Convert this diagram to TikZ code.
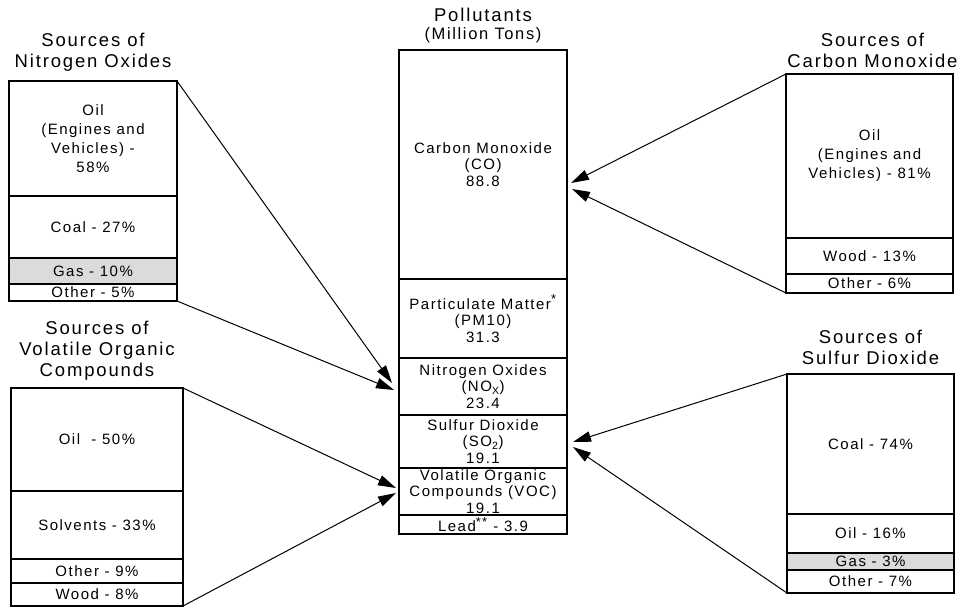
\documentclass[tikz,border=0pt]{standalone}
\usepackage{fontspec}
\setmainfont{Liberation Sans}[LetterSpace=10]
\usetikzlibrary{calc,positioning,arrows.meta}

\definecolor{gasgray}{gray}{0.86}
\newcommand\partfont{\fontsize{15}{19}\selectfont}
\newcommand\midfont{\fontsize{15}{16.5}\selectfont}
\newcommand\headfont{\fontsize{18.5}{21}\selectfont}
\newcommand\subheadfont{\fontsize{16.5}{18}\selectfont}
\newcommand\footmark[1]{\textsuperscript{\fontsize{13}{13}\selectfont #1}}

\tikzset{
  part/.style={draw, line width=1.1pt, inner sep=0pt, outer sep=0pt, align=center, font=\partfont},
  lcol/.style={part, minimum width=168pt},
  vcol/.style={part, minimum width=172pt},
  mcol/.style={part, minimum width=168pt, font=\midfont},
  rcol/.style={part, minimum width=167pt},
  gas/.style={fill=gasgray},
  head/.style={inner sep=0pt, align=center, font=\headfont},
  feed/.style={line width=1pt, -{Triangle[length=18pt,width=10.5pt]}}
}

\begin{document}
\begin{tikzpicture}[x=1pt,y=-1pt]
\useasboundingbox (0,0) rectangle (958,608);

% pollutants
\node[mcol, minimum height=229pt, anchor=north west] (pco) at (399,50) {Carbon Monoxide\\(CO)\\88.8};
\node[mcol, minimum height=79pt, below=0pt of pco] (ppm) {Particulate Matter\footmark{*}\\(PM10)\\31.3};
\node[mcol, minimum height=57pt, below=0pt of ppm] (pnox) {Nitrogen Oxides\\(NO\textsubscript{X})\\23.4};
\node[mcol, minimum height=53pt, below=0pt of pnox] (pso) {Sulfur Dioxide\\(SO\textsubscript{2})\\19.1};
\node[mcol, minimum height=47pt, below=0pt of pso] (pvoc) {Volatile Organic\\Compounds (VOC)\\19.1};
\node[mcol, minimum height=19pt, below=0pt of pvoc] (plead) {Lead\footmark{**} - 3.9};
\node[head, font=\subheadfont, above=7pt of pco] (psub) {(Million Tons)};
\node[head, above=5pt of psub] (ptitle) {Pollutants};

% nitrogen oxides
\node[lcol, minimum height=115pt, anchor=north west] (noxoil) at (9,81) {Oil\\(Engines and\\Vehicles) -\\58\%};
\node[lcol, minimum height=62pt, below=0pt of noxoil] (noxcoal) {Coal - 27\%};
\node[lcol, gas, minimum height=26pt, below=0pt of noxcoal] (noxgas) {Gas - 10\%};
\node[lcol, minimum height=17pt, below=0pt of noxgas] (noxother) {Other - 5\%};
\node[head, above=9pt of noxoil] (noxtitle) {Sources of\\Nitrogen Oxides};

% volatile organic compounds
\node[vcol, minimum height=103pt, anchor=north west] (vocoil) at (11,388) {Oil\ \ - 50\%};
\node[vcol, minimum height=68pt, below=0pt of vocoil] (vocsolv) {Solvents - 33\%};
\node[vcol, minimum height=24pt, below=0pt of vocsolv] (vocother) {Other - 9\%};
\node[vcol, minimum height=23pt, below=0pt of vocother] (vocwood) {Wood - 8\%};
\node[head, above=7pt of vocoil] (voctitle) {Sources of\\Volatile Organic\\Compounds};

% carbon monoxide
\node[rcol, minimum height=164pt, anchor=north west] (cooil) at (786,74) {Oil\\(Engines and\\Vehicles) - 81\%};
\node[rcol, minimum height=36pt, below=0pt of cooil] (cowood) {Wood - 13\%};
\node[rcol, minimum height=19pt, below=0pt of cowood] (coother) {Other - 6\%};
\node[head, above=6pt of cooil, xshift=3pt] (cotitle) {Sources of\\Carbon Monoxide};

% sulfur dioxide
\node[rcol, minimum height=140pt, anchor=north west] (socoal) at (787,374) {Coal - 74\%};
\node[rcol, minimum height=39pt, below=0pt of socoal] (sooil) {Oil - 16\%};
\node[rcol, gas, minimum height=17pt, below=0pt of sooil] (sogas) {Gas - 3\%};
\node[rcol, minimum height=23pt, below=0pt of sogas] (soother) {Other - 7\%};
\node[head, above=9pt of socoal] (sotitle) {Sources of\\Sulfur Dioxide};

\coordinate (noxin1) at ($(pnox.west)+(-7,-3.5)$);
\coordinate (noxin2) at ($(pnox.west)+(-5,3.5)$);
\coordinate (vocin1) at ($(pvoc.west)+(-3,-3.5)$);
\coordinate (vocin2) at ($(pvoc.west)+(-3,1.5)$);
\coordinate (coin1) at ($(pco.east)+(4,18.5)$);
\coordinate (coin2) at ($(pco.east)+(5,24.5)$);
\coordinate (soin1) at ($(pso.east)+(6,0.5)$);
\coordinate (soin2) at ($(pso.east)+(6,5.5)$);

\draw[feed] (noxoil.north east) -- (noxin1);
\draw[feed] (noxother.south east) -- (noxin2);
\draw[feed] (vocoil.north east) -- (vocin1);
\draw[feed] (vocwood.south east) -- (vocin2);
\draw[feed] (cooil.north west) -- (coin1);
\draw[feed] (coother.south west) -- (coin2);
\draw[feed] (socoal.north west) -- (soin1);
\draw[feed] (soother.south west) -- (soin2);
\end{tikzpicture}
\end{document}
